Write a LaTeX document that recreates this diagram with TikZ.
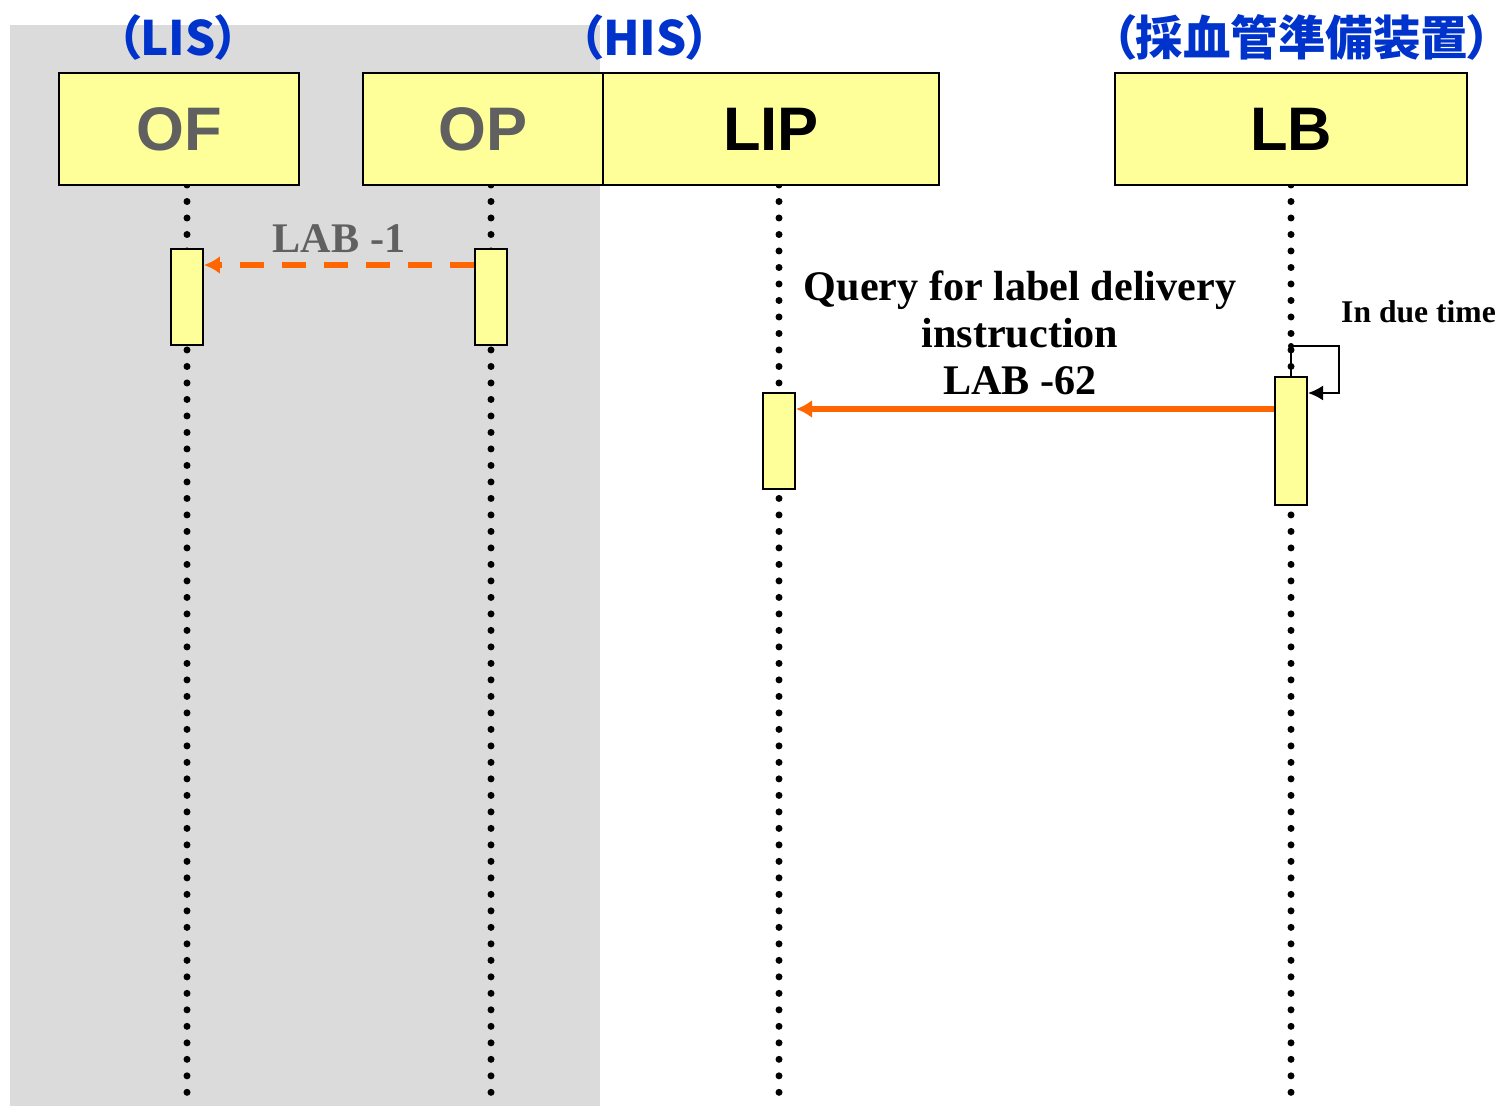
\documentclass[tikz,border=0pt]{standalone}
\usepackage{fontspec}
\setmainfont{Liberation Serif}
\setsansfont{Liberation Sans}
\newfontfamily\cjk[RawFeature=+palt]{Noto Sans CJK JP}
\usetikzlibrary{positioning, arrows.meta}

\definecolor{boxyellow}{HTML}{FFFF99}
\definecolor{msgorange}{HTML}{FF6600}
\definecolor{headblue}{HTML}{0033CC}
\definecolor{textgray}{HTML}{606060}

\tikzstyle{block} = [rectangle, draw, fill=boxyellow, line width=0.04cm,
    minimum width=4.8cm, minimum height=2.24cm, font=\sffamily\bfseries\fontsize{35}{35}\selectfont]
\tikzstyle{act} = [rectangle, draw, fill=boxyellow, line width=0.04cm,
    minimum width=0.64cm, minimum height=1.92cm, inner sep=0pt]
\tikzstyle{lifeline} = [draw, line width=0.14cm, line cap=round, dash pattern=on 0pt off 0.33cm]
\tikzstyle{line} = [draw, -{Latex[length=0.32cm, width=0.36cm]}, msgorange, line width=0.11cm]
\tikzstyle{selfline} = [draw, -{Latex[length=0.3cm, width=0.3cm]}, line width=0.04cm]
\tikzstyle{sysname} = [font=\cjk\bfseries\fontsize{27}{27}\selectfont, text=headblue, inner sep=0pt]
\tikzstyle{msgtext} = [font=\bfseries\fontsize{24}{27}\selectfont, align=center, text=black]

\begin{document}
\begin{tikzpicture}[x=0.02cm, y=-0.02cm, auto]
    \useasboundingbox (0,0) rectangle (1501,1108);
    \fill [black!14] (10,25) rectangle (600,1106);
    \foreach \x in {187,491,779,1291}
        \path [lifeline] (\x,185) -- (\x,1100);

    \node [block, text=textgray] (OF) at (179,129) {OF};
    \node [block, text=textgray] (OP) at (483,129) {OP};
    \node [block, minimum width=6.72cm] (LIP) at (771,129) {LIP};
    \node [block, minimum width=7.04cm] (LB) at (1291,129) {LB};

    \node [sysname] (LIS) at (178,37) {（LIS）};
    \node [sysname] (HIS) at (645,37) {（HIS）};
    \node [sysname] (Device) at (1302,37) {（採血管準備装置）};

    \node [act] (actOF) at (187,297) {};
    \node [act] (actOP) at (491,297) {};
    \node [act] (actLIP) at (779,441) {};
    \node [act, minimum height=2.56cm] (actLB) at (1291,441) {};

    \path [line, dash pattern=on 0.48cm off 0.36cm] (actOP.west |- 0,265) -- node [msgtext, text=textgray, above, yshift=0.08cm] {LAB -1} (actOF.east |- 0,265);
    \path [line] (actLB.west |- 0,409) -- node [msgtext, above, xshift=-0.3cm, yshift=0.1cm] {Query for label delivery\\instruction\\LAB -62} (actLIP.east |- 0,409);

    \coordinate (loopLB) at (1291,346);
    \fill (loopLB) circle (0.06cm);
    \draw [line width=0.04cm] (loopLB) -- (actLB.north);
    \path [selfline] (loopLB) -- ++(48,0) |- (actLB.east |- 0,393);
    \node [msgtext, font=\bfseries\fontsize{18}{18}\selectfont, anchor=west] (due) at (1335,312) {In due time};
\end{tikzpicture}
\end{document}
